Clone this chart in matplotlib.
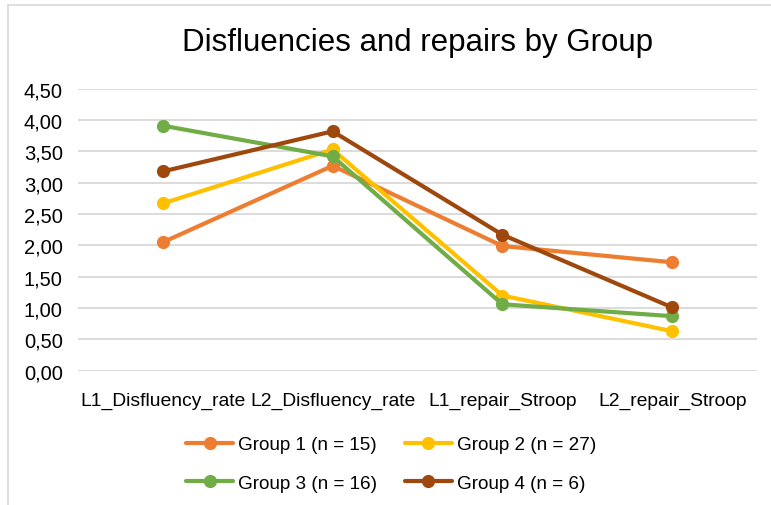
import matplotlib
matplotlib.use("Agg")
import matplotlib.pyplot as plt
from matplotlib.lines import Line2D

categories = ["L1_Disfluency_rate", "L2_Disfluency_rate", "L1_repair_Stroop", "L2_repair_Stroop"]
group1 = [2.05, 3.27, 1.99, 1.73]
group2 = [2.67, 3.53, 1.20, 0.63]
group3 = [3.91, 3.42, 1.06, 0.87]
group4 = [3.18, 3.82, 2.17, 1.01]
series_names = ["Group 1 (n = 15)", "Group 2 (n = 27)", "Group 3 (n = 16)", "Group 4 (n = 6)"]
colors = ["#ED7D31", "#FFC000", "#70AD47", "#9E480E"]
yticks = [0.0, 0.5, 1.0, 1.5, 2.0, 2.5, 3.0, 3.5, 4.0, 4.5]

base = "Liberation Sans"

fig = plt.figure(figsize=(7.71, 5.06), dpi=100)
ax = fig.add_axes([78/771, 1-371.7/506, (757-78)/771, (371.7-89.7)/506])

x = list(range(len(categories)))
handles = []
for vals, name, c in zip([group1, group2, group3, group4], series_names, colors):
    h, = ax.plot(x, vals, color=c, lw=3, marker="o", ms=8.5, label=name, solid_capstyle="round")
    handles.append(h)

ax.set_xlim(-0.5, len(categories) - 0.5)
ax.set_ylim(0, 4.5)
ax.set_yticks(yticks)
ax.set_yticklabels([f"{v:.2f}".replace(".", ",") for v in yticks], fontsize=14.5, family=base)
ax.set_xticks(x)
ax.set_xticklabels(categories, fontsize=13.9, family=base)
ax.tick_params(axis="y", length=0, pad=11)
ax.tick_params(axis="x", length=0, pad=15)
ax.grid(axis="y", color="#D9D9D9", lw=1.3)
ax.set_axisbelow(True)
for s in ax.spines.values():
    s.set_visible(False)

fig.text(417/771, 1-43/506, "Disfluencies and repairs by Group", ha="center", va="center",
         fontsize=22.5, family=base)

# row-wise legend order (G1, G2 / G3, G4) with matplotlib's column-wise fill
order = [0, 2, 1, 3]
leg = fig.legend([handles[i] for i in order], [series_names[i] for i in order],
                 loc="upper left", bbox_to_anchor=(169/771, 1-420/506), ncol=2, frameon=False,
                 prop={"family": base, "size": 13.6}, handlelength=2.5, columnspacing=1.45,
                 labelspacing=1.12, handletextpad=0.27)

# chart border (top and left visible)
fig.add_artist(Line2D([8/771, 1], [1-6/506, 1-6/506], color="#D9D9D9", lw=1.2, transform=fig.transFigure))
fig.add_artist(Line2D([8/771, 8/771], [0, 1-6/506], color="#D9D9D9", lw=1.2, transform=fig.transFigure))

fig.savefig("out.png", dpi=100)
